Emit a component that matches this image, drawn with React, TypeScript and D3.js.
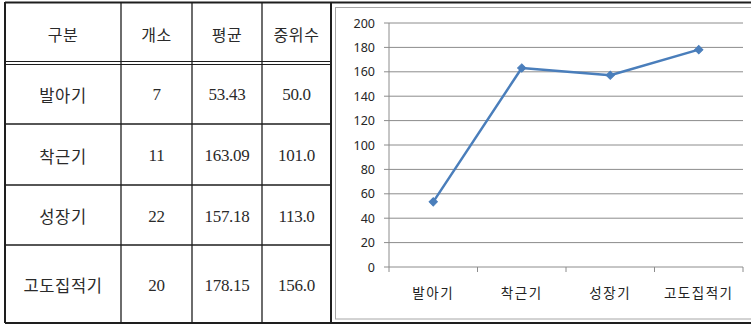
import React from "react";
import * as d3 from "d3";

// Growth stage summary: table on the left, mean trend on the right
const headers = ["구분", "개소", "평균", "중위수"];
const categories = ["발아기", "착근기", "성장기", "고도집적기"];
const counts = [7, 11, 22, 20];
const means = [53.43, 163.09, 157.18, 178.15];
const medians = [50.0, 101.0, 113.0, 156.0];
const yTicks = [0, 20, 40, 60, 80, 100, 120, 140, 160, 180, 200];

const W = 751;
const H = 326;

// table grid
const colEdges = [5, 121, 192, 262, 331];
const rowEdges = [2, 63, 124, 185, 245, 323];

// chart plot box
const plot = { left: 389, right: 743, top: 23, bottom: 267 };

const LINE = "#4a7ebb";
const GRID = "#8c8c8c";
const INK = "#1e1e1e";

export default function App() {
  const x = d3
    .scaleBand<string>()
    .domain(categories)
    .range([plot.left, plot.right])
    .paddingInner(0)
    .paddingOuter(0);
  const y = d3.scaleLinear().domain([0, 200]).range([plot.bottom, plot.top]);

  const cx = (c: string) => (x(c) ?? 0) + x.bandwidth() / 2;
  const line = d3
    .line<number>()
    .x((_, i) => cx(categories[i]))
    .y((d) => y(d));

  const marker = d3.symbol().type(d3.symbolSquare).size(34)() as string;

  const bandEdges = [...categories.map((c) => x(c) ?? 0), plot.right];

  const cellCenterX = (i: number) => (colEdges[i] + colEdges[i + 1]) / 2;
  const rowCenterY = (r: number) => (rowEdges[r] + rowEdges[r + 1]) / 2;

  const korean = '"Noto Sans CJK KR", "Noto Sans", sans-serif';
  const serif = '"Liberation Serif", "DejaVu Serif", serif';

  const bodyRows = categories.map((c, i) => [
    c,
    String(counts[i]),
    means[i].toFixed(2),
    medians[i].toFixed(1),
  ]);

  return (
    <div style={{ position: "absolute", left: 0, top: 0 }}>
      <svg width={W} height={H} style={{ display: "block", background: "#fff" }}>
        {/* table */}
        <g>
          {/* outer horizontal rules spanning table and chart cell */}
          <line x1={colEdges[0]} x2={W} y1={rowEdges[0] + 0.5} y2={rowEdges[0] + 0.5} stroke={INK} strokeWidth={2} />
          <line x1={colEdges[0]} x2={W} y1={rowEdges[5]} y2={rowEdges[5]} stroke={INK} strokeWidth={2} />
          {/* vertical rules */}
          {colEdges.map((cx0, i) => (
            <line
              key={"v" + i}
              x1={cx0}
              x2={cx0}
              y1={rowEdges[0]}
              y2={rowEdges[5]}
              stroke={INK}
              strokeWidth={i === 0 || i === colEdges.length - 1 ? 2 : 1.3}
            />
          ))}
          {/* header double rule */}
          <line x1={colEdges[0]} x2={colEdges[4]} y1={61.5} y2={61.5} stroke={INK} strokeWidth={1.2} />
          <line x1={colEdges[0]} x2={colEdges[4]} y1={64.5} y2={64.5} stroke={INK} strokeWidth={1.2} />
          {/* row rules */}
          {rowEdges.slice(2, 5).map((ry, i) => (
            <line key={"h" + i} x1={colEdges[0]} x2={colEdges[4]} y1={ry} y2={ry} stroke={INK} strokeWidth={1.3} />
          ))}
          {headers.map((h, i) => (
            <text
              key={"hd" + i}
              x={cellCenterX(i)}
              y={rowCenterY(0) + 1}
              textAnchor="middle"
              dominantBaseline="central"
              fontFamily={korean}
              fontSize={16}
              letterSpacing={0.6}
              fill="#2a2a2a"
            >
              {h}
            </text>
          ))}
          {bodyRows.map((row, r) =>
            row.map((v, c) => (
              <text
                key={"c" + r + "-" + c}
                x={cellCenterX(c)}
                y={rowCenterY(r + 1) + 1}
                textAnchor="middle"
                dominantBaseline="central"
                fontFamily={c === 0 ? korean : serif}
                fontSize={c === 0 ? 16.5 : 17}
                letterSpacing={c === 0 ? 0.6 : -0.3}
                fill="#2a2a2a"
              >
                {v}
              </text>
            ))
          )}
        </g>

        {/* chart frame */}
        <rect x={335.5} y={7.5} width={430} height={311.5} fill="#fff" stroke="#a6a6a6" strokeWidth={1} />

        {/* gridlines and y axis labels */}
        {yTicks.map((t) => (
          <g key={"y" + t}>
            <line x1={plot.left - 5} x2={plot.right} y1={y(t)} y2={y(t)} stroke={GRID} strokeWidth={1} />
            <text
              x={375}
              y={y(t)}
              textAnchor="end"
              dominantBaseline="central"
              fontFamily='"Noto Sans", "DejaVu Sans", sans-serif'
              fontSize={12.5}
              fill="#262626"
            >
              {t}
            </text>
          </g>
        ))}
        {/* y axis */}
        <line x1={plot.left} x2={plot.left} y1={plot.top} y2={plot.bottom} stroke={GRID} strokeWidth={1} />
        {/* x axis ticks */}
        {bandEdges.map((bx, i) => (
          <line key={"xt" + i} x1={bx} x2={bx} y1={plot.bottom} y2={plot.bottom + 5} stroke={GRID} strokeWidth={1} />
        ))}
        {categories.map((c) => (
          <text
            key={"xl" + c}
            x={cx(c)}
            y={292}
            textAnchor="middle"
            dominantBaseline="central"
            fontFamily={korean}
            fontSize={13.5}
            letterSpacing={1.5}
            fill="#222"
          >
            {c}
          </text>
        ))}

        {/* mean line with diamond markers */}
        <path d={line(means) ?? ""} fill="none" stroke={LINE} strokeWidth={2.5} strokeLinejoin="round" />
        {means.map((m, i) => (
          <path
            key={"m" + i}
            d={marker}
            transform={`translate(${cx(categories[i])},${y(m)}) rotate(45)`}
            fill={LINE}
            stroke={LINE}
            strokeWidth={1}
          />
        ))}
      </svg>
    </div>
  );
}
